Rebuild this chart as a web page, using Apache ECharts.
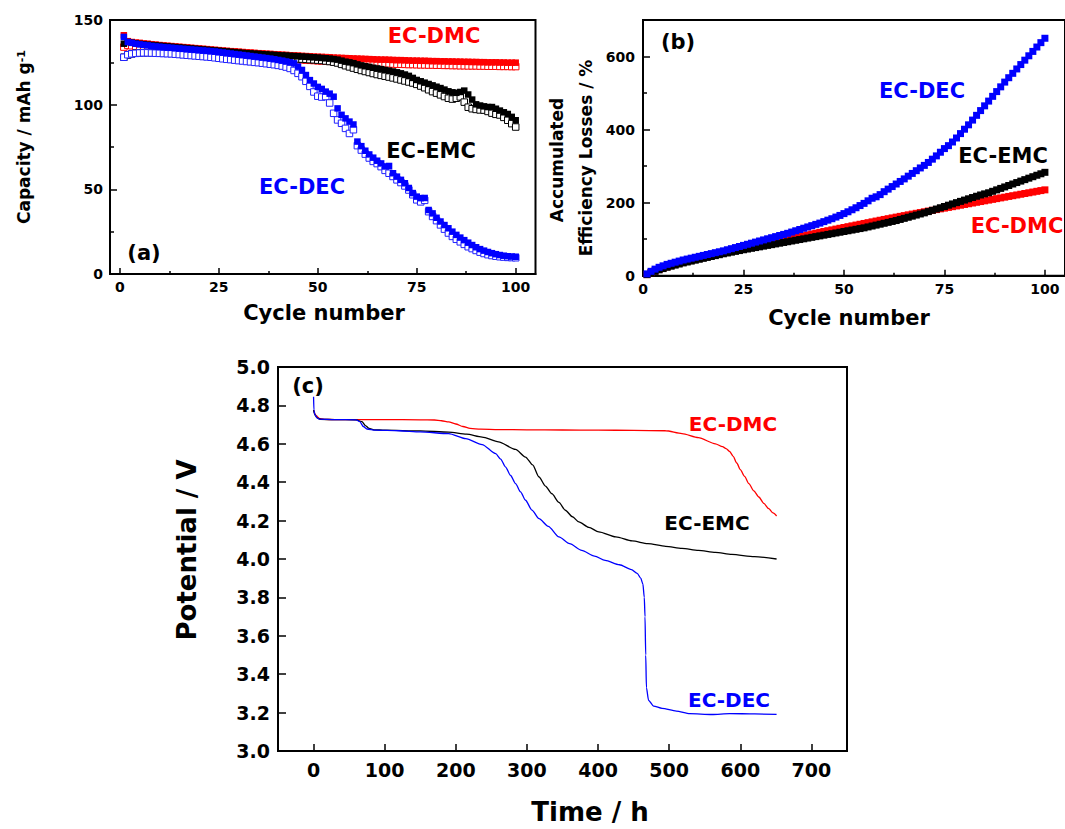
<!DOCTYPE html>
<html><head><meta charset="utf-8">
<script src="https://cdn.jsdelivr.net/npm/echarts@6/dist/echarts.min.js"></script>
<style>html,body{margin:0;padding:0;background:#fff}#c{width:1065px;height:829px}</style>
</head><body><div id="c"></div>
<script>
// ---------- data ----------
const cycles = [1,2,3,4,5,6,7,8,9,10,11,12,13,14,15,16,17,18,19,20,21,22,23,24,25,26,27,28,29,30,
31,32,33,34,35,36,37,38,39,40,41,42,43,44,45,46,47,48,49,50,51,52,53,54,55,56,57,58,59,60,
61,62,63,64,65,66,67,68,69,70,71,72,73,74,75,76,77,78,79,80,81,82,83,84,85,86,87,88,89,90,
91,92,93,94,95,96,97,98,99,100];

// (a) capacity, mAh/g : charge (filled) and discharge (open)
const capDMCcharge = [141,137.5,137,136.7,136.5,136.2,136,135.7,135.5,135.2,
135,134.8,134.6,134.4,134.2,134,133.8,133.6,133.4,133.2,
133,132.8,132.6,132.4,132.2,132,131.8,131.6,131.5,131.3,
131.1,130.9,130.8,130.6,130.4,130.3,130.1,130,129.8,129.7,
129.5,129.4,129.2,129.1,129,128.8,128.7,128.6,128.4,128.3,
128.2,128.1,128,127.8,127.7,127.6,127.5,127.4,127.3,127.2,
127.1,127,126.9,126.8,126.7,126.6,126.6,126.5,126.4,126.3,
126.3,126.2,126.1,126,126,125.9,125.9,125.8,125.7,125.7,
125.6,125.6,125.5,125.5,125.4,125.4,125.3,125.3,125.2,125.2,
125.1,125.1,125,125,125,124.9,124.9,124.8,124.8,124.8];
const capDMCdischarge = [134,135,134.8,134.5,134.3,134,133.8,133.6,133.3,133.1,
132.9,132.7,132.5,132.3,132.1,131.9,131.7,131.5,131.3,131.1,
130.9,130.7,130.5,130.3,130.1,129.9,129.7,129.5,129.3,129.1,
128.9,128.7,128.6,128.4,128.2,128,127.9,127.7,127.5,127.4,
127.2,127.1,126.9,126.8,126.6,126.5,126.3,126.2,126.1,125.9,
125.8,125.7,125.6,125.5,125.3,125.2,125.1,125,124.9,124.8,
124.7,124.6,124.5,124.4,124.3,124.3,124.2,124.1,124,123.9,
123.9,123.8,123.7,123.7,123.6,123.5,123.5,123.4,123.4,123.3,
123.3,123.2,123.2,123.1,123.1,123,123,122.9,122.9,122.9,
122.8,122.8,122.7,122.7,122.7,122.6,122.6,122.6,122.5,122.5];
const capEMCcharge = [136,137,136.6,136.2,135.9,135.6,135.4,135.2,135,134.8,
134.6,134.4,134.2,134,133.8,133.6,133.4,133.2,133,132.8,
132.6,132.4,132.2,132,131.8,131.6,131.4,131.2,131,130.8,
130.6,130.4,130.3,130.1,130,129.8,129.7,129.5,129.4,129.2,
129.1,129,128.8,128.7,128.6,128.4,128.3,128.1,128,127.8,
127.6,127.4,127.2,126.9,126.6,126,125.4,125,124.5,123.8,
123.2,122.7,122.3,121.8,121.4,121,120.5,120.1,119.6,119.1,
118.5,117.8,117,115.8,114.6,113.8,113,112.2,111.4,110.6,
109.8,108.9,107.9,107.3,107,107.5,108.3,106,103,100.2,
99.5,99,98.6,98.6,97.6,96.5,95.5,94.5,92.8,90.8];
const capEMCdischarge = [128,129.3,130,130.4,130.6,130.7,130.7,130.7,130.6,130.6,
130.5,130.5,130.4,130.3,130.3,130.2,130.1,130,129.9,129.8,
129.7,129.6,129.5,129.4,129.3,129.2,129.1,129,128.9,128.8,
128.6,128.5,128.4,128.3,128.2,128.1,128,127.8,127.7,127.6,
127.5,127.4,127.3,127.1,127,126.9,126.8,126.6,126.5,126.3,
126.1,125.8,125.5,125.1,124.6,123.8,123,122.3,121.6,120.9,
120.2,119.6,119,118.4,117.8,117.3,116.8,116.3,115.8,115.2,
114.6,114,113.4,112.8,112,111,110,108.8,107.7,106.8,
105.8,104.8,103.8,103.3,103.8,104.6,101.5,98.5,97.6,97.2,
96.9,96.8,96,95,94.3,93.9,92.5,90.8,88.8,86.8];
const capDECcharge = [140,137,136.5,136,135.6,135.3,135,134.7,134.4,134.2,
134,133.8,133.6,133.4,133.2,133,132.8,132.6,132.4,132.2,
132,131.8,131.6,131.4,131.1,130.8,130.5,130.2,129.9,129.6,
129.3,129,128.7,128.4,128.1,127.8,127.5,127.2,126.8,126.4,
126,125.5,125,124.4,122.5,120.5,117.5,114.5,112.5,110.5,
109.3,107.7,106.5,104.7,97.8,94,91.9,90,88.3,78.2,
75.5,72.8,70.6,68.7,66.9,65.3,63.5,63.8,59.5,57.5,
55.6,53.6,50.8,47.8,45.7,44.8,44.9,37.8,35.8,33.2,
31,28.9,27,25,23.1,21.5,20,18.5,17.1,15.8,
14.7,13.8,13,12.3,11.7,11.2,10.8,10.5,10.3,10.2];
const capDECdischarge = [128,129.5,130,130.3,130.5,130.6,130.6,130.5,130.4,130.3,
130.2,130.1,130,129.8,129.6,129.4,129.2,129,128.8,128.6,
128.4,128.2,128,127.7,127.4,127.1,126.8,126.6,126.3,126,
125.8,125.5,125.3,125,124.8,124.5,124.2,123.9,123.6,123.2,
122.8,122.2,121.4,120.2,118.5,116.5,113.8,110.8,107.5,105,
104.5,104.8,101,94.9,91,89,86,83,85.2,75.8,
73.2,70.8,68.5,66.5,65.2,63.4,61.2,59.5,57.6,55.6,
54,52,49.6,46.8,43.8,42.6,43.5,36.8,34,31.5,
29,26.5,24.2,22.2,20.5,19,17.5,16.1,15,13.9,
12.9,12.1,11.4,10.9,10.5,10.2,10,9.8,9.7,9.6];

// (b) accumulated efficiency losses, %
const lossDMC = [3,8.5,13,17,21,24.5,28,31,34,37,
39.7,42.4,45,47.6,50.2,52.8,55.4,58,60.5,63,
65.4,67.8,70.2,72.6,75,77.3,79.6,81.9,84.2,86.5,
88.8,91.1,93.4,95.7,98,100.3,102.6,104.9,107.2,109.5,
111.8,114.1,116.4,118.7,121,123.2,125.4,127.6,129.8,132,
134.2,136.4,138.6,140.8,143,145.2,147.4,149.6,151.8,154,
156.1,158.2,160.3,162.4,164.5,166.6,168.7,170.8,172.9,175,
177,179,181,183,185,187,189,191,193,195,
197,199,201,203,205,207,209,211,213,215,
217,219,221,223,225,227,229,231,233,235];
const lossEMC = [3,8,12,16,19.5,23,26,29,32,35,
37.5,40,42.5,45,47.5,50,52.5,55,57.5,60,
62.2,64.4,66.6,68.8,71,73,75,77,79,81,
83,85,87,89,91,93,95,97,99,101,
103,105,107,109,111,113,115,117,119,121,
123,125,127,129,131,133.5,136,138.5,141,143.5,
146,148.5,151,154,157,160,163,166,169,172,
175.5,179,182.5,186,189.5,193,196.5,200,203.5,207,
210.5,214,217.5,221,224,227,231,235,239,243,
247,251,255,259,263,267,271,275,279,283];
const lossDEC = [5,12,18,23,27,31,34,37,40,43,
45.5,48,50.5,53,55.5,58,60.5,63,65.5,68,
71,74,77,80,83,86,89,92,95,98,
101,104,107,110,113,116,119.5,123,126.5,130,
133.5,137,140.5,144,148,152,156,160.5,165,170,
175,180.5,186,192,198,205,212,216,222,230,
237,244,251,258,265,272.5,280,287.5,295,302,
310,319,328,338,348,356,366,377,389,401,
413,426,439,452,465,478,491,504,517,530,
542,554,566,578,590,602,614,626,638,650];

// (c) potential vs time
const timeDMC = [0,1,2,4,8,15,30,60,100,150,170,180,190,200,210,220,235,260,300,350,400,450,495,518,541,565,575,580,585,590,595,600,606,612,619,626,633,640,646,651];
const voltDMC = [4.775,4.765,4.755,4.745,4.732,4.727,4.726,4.726,4.726,4.725,4.724,4.72,4.714,4.703,4.69,4.68,4.676,4.674,4.673,4.672,4.671,4.67,4.668,4.653,4.632,4.60,4.585,4.575,4.56,4.535,4.50,4.465,4.43,4.393,4.355,4.323,4.29,4.262,4.24,4.224];
const timeEMC = [0,2,5,10,30,60,68,73,78,85,100,150,190,215,237,260,284,298,308,317,326,335,345,354,364,373,387,401,425,448,470,495,518,541,565,588,620,651];
const voltEMC = [4.775,4.75,4.735,4.727,4.726,4.725,4.715,4.695,4.68,4.673,4.671,4.667,4.661,4.65,4.635,4.61,4.571,4.531,4.49,4.427,4.38,4.34,4.295,4.254,4.22,4.193,4.165,4.141,4.115,4.094,4.08,4.066,4.055,4.045,4.035,4.024,4.012,4.0];
const timeDEC = [0,0.5,2,5,8,30,60,65,70,75,87,120,150,190,214,237,256,263,270,277,284,291,298,307,317,330,345,360,377,395,410,430,447,455,460,463,465,466,467,468,471,478,490,510,529,560,585,620,651];
const voltDEC = [4.845,4.775,4.75,4.735,4.728,4.726,4.725,4.715,4.69,4.677,4.671,4.668,4.662,4.653,4.627,4.596,4.549,4.52,4.479,4.435,4.393,4.35,4.306,4.255,4.21,4.17,4.115,4.08,4.045,4.015,3.993,3.97,3.945,3.925,3.9,3.87,3.80,3.70,3.50,3.33,3.264,3.234,3.222,3.208,3.195,3.19,3.195,3.193,3.191];

// ticks
const cycleMajor = [0,25,50,75,100];
const cycleMinor = [12.5,37.5,62.5,87.5];
const capMajor = [0,50,100,150];
const capMinor = [25,75,125];
const lossMajor = [0,200,400,600];
const lossMinor = [100,300,500];
const timeMajor = [0,100,200,300,400,500,600,700];
const voltMajor = [3.0,3.2,3.4,3.6,3.8,4.0,4.2,4.4,4.6,4.8,5.0];

// ---------- chart ----------
const FONT = '"DejaVu Sans", sans-serif';
const RED = '#ff0000', BLUE = '#0000ff', BLACK = '#000000';
const chart = echarts.init(document.getElementById('c'), null, {renderer: 'svg'});
const pairs = (xs, ys) => ys.map((v, i) => [xs[i], v]);

function mainAxis(dim, gridIndex, min, max, major, fmt, fontSize, margin, tickLen) {
  return {
    type: 'value', gridIndex, min, max, position: dim === 'x' ? 'bottom' : 'left',
    axisLine: {show: true, onZero: false, lineStyle: {color: BLACK, width: 2}},
    axisTick: {show: true, inside: true, length: tickLen, customValues: major, lineStyle: {color: BLACK, width: 1.5}},
    axisLabel: {show: true, customValues: major, formatter: fmt, margin, color: BLACK,
      fontFamily: FONT, fontWeight: 'bold', fontSize},
    splitLine: {show: false}, minorTick: {show: false}
  };
}
function minorAxis(dim, gridIndex, min, max, minor, tickLen) {
  return {
    type: 'value', gridIndex, min, max, position: dim === 'x' ? 'bottom' : 'left',
    axisLine: {show: false, onZero: false},
    axisTick: {show: true, inside: true, length: tickLen, customValues: minor, lineStyle: {color: BLACK, width: 1.5}},
    axisLabel: {show: false}, splitLine: {show: false}
  };
}
const fmtInt = v => String(v);
const fmt1 = v => v.toFixed(1);

function filled(name, xi, yi, data, color, size) {
  return {name, type: 'scatter', xAxisIndex: xi, yAxisIndex: yi, data, symbol: 'rect', symbolSize: size,
    itemStyle: {color, opacity: 1}, silent: true};
}
function open(name, xi, yi, data, color, size) {
  return {name, type: 'scatter', xAxisIndex: xi, yAxisIndex: yi, data, symbol: 'rect', symbolSize: size,
    itemStyle: {color: '#ffffff', borderColor: color, borderWidth: 1, opacity: 1}, silent: true};
}
function curve(name, data, color) {
  return {name, type: 'line', xAxisIndex: 4, yAxisIndex: 4, data, showSymbol: false, symbol: 'none',
    smooth: 0.25, smoothMonotone: 'x', lineStyle: {color, width: 1.3}, silent: true};
}
function txt(x, y, text, size, color, rot) {
  return {type: 'text', x, y, rotation: rot || 0, z: 100, silent: true,
    style: {text, fill: color, fontFamily: FONT, fontWeight: 'bold', fontSize: size,
      textAlign: 'center', textVerticalAlign: 'middle'}};
}

const option = {
  animation: false,
  backgroundColor: '#ffffff',
  grid: [
    {left: 110, top: 20, width: 425.5, height: 254, show: true, borderColor: BLACK, borderWidth: 2},
    {left: 643, top: 20, width: 429, height: 255.7, show: true, borderColor: BLACK, borderWidth: 2},
    {left: 278, top: 367, width: 569, height: 384, show: true, borderColor: BLACK, borderWidth: 2}
  ],
  xAxis: [
    mainAxis('x', 0, -2.5, 105, cycleMajor, fmtInt, 14, 6, 6),
    minorAxis('x', 0, -2.5, 105, cycleMinor, 3),
    mainAxis('x', 1, 0, 105, cycleMajor, fmtInt, 14, 6, 6),
    minorAxis('x', 1, 0, 105, cycleMinor, 3),
    mainAxis('x', 2, -50, 750, timeMajor, fmtInt, 19, 9, 7)
  ],
  yAxis: [
    mainAxis('y', 0, 0, 150, capMajor, fmtInt, 14, 7, 7),
    minorAxis('y', 0, 0, 150, capMinor, 4),
    mainAxis('y', 1, 0, 700, lossMajor, fmtInt, 14, 8, 7),
    minorAxis('y', 1, 0, 700, lossMinor, 4),
    mainAxis('y', 2, 3.0, 5.0, voltMajor, fmt1, 19, 8, 8)
  ],
  series: [
    open('EC-DMC discharge', 0, 0, pairs(cycles, capDMCdischarge), RED, 6.5),
    filled('EC-DMC charge', 0, 0, pairs(cycles, capDMCcharge), RED, 6.5),
    open('EC-EMC discharge', 0, 0, pairs(cycles, capEMCdischarge), BLACK, 6.5),
    filled('EC-EMC charge', 0, 0, pairs(cycles, capEMCcharge), BLACK, 6.5),
    open('EC-DEC discharge', 0, 0, pairs(cycles, capDECdischarge), '#2020ff', 6.5),
    filled('EC-DEC charge', 0, 0, pairs(cycles, capDECcharge), BLUE, 6.5),
    filled('EC-DMC loss', 2, 2, pairs(cycles, lossDMC), RED, 7),
    filled('EC-EMC loss', 2, 2, pairs(cycles, lossEMC), BLACK, 7),
    filled('EC-DEC loss', 2, 2, pairs(cycles, lossDEC), BLUE, 7),
    curve('EC-DMC', pairs(timeDMC, voltDMC), RED),
    curve('EC-EMC', pairs(timeEMC, voltEMC), BLACK),
    curve('EC-DEC', pairs(timeDEC, voltDEC), BLUE)
  ],
  graphic: [
    // panel (a)
    txt(144, 253, '(a)', 21, BLACK),
    txt(434, 36, 'EC-DMC', 21, RED),
    txt(431, 151, 'EC-EMC', 21, BLACK),
    txt(302, 187, 'EC-DEC', 21, BLUE),
    txt(324, 313, 'Cycle number', 21, BLACK),
    {type: 'text', x: 24, y: 137, rotation: Math.PI / 2, z: 100, silent: true,
      style: {text: '{m|Capacity / mAh g}{s|-1}', fill: BLACK, textAlign: 'center', textVerticalAlign: 'middle',
        rich: {m: {fontFamily: FONT, fontWeight: 'bold', fontSize: 17, fill: BLACK, verticalAlign: 'bottom'},
               s: {fontFamily: FONT, fontWeight: 'bold', fontSize: 11, fill: BLACK, verticalAlign: 'top'}}}},
    // panel (b)
    txt(678, 42, '(b)', 21, BLACK),
    txt(922, 91, 'EC-DEC', 21, BLUE),
    txt(1003, 156, 'EC-EMC', 21, BLACK),
    txt(1017, 226, 'EC-DMC', 21, RED),
    txt(849, 318, 'Cycle number', 21, BLACK),
    txt(557, 160, 'Accumulated', 17, BLACK, Math.PI / 2),
    txt(586, 158, 'Efficiency Losses / %', 17, BLACK, Math.PI / 2),
    // panel (c)
    txt(308, 386, '(c)', 21, BLACK),
    txt(733, 424, 'EC-DMC', 20, RED),
    txt(707, 523, 'EC-EMC', 20, BLACK),
    txt(729, 700, 'EC-DEC', 20, BLUE),
    txt(590, 812, 'Time / h', 26, BLACK),
    txt(187, 550, 'Potential / V', 26, BLACK, Math.PI / 2)
  ]
};
chart.setOption(option);
</script>
</body></html>
